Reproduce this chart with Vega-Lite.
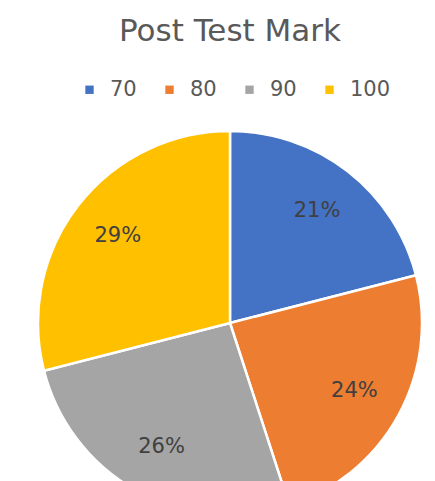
{
  "$schema": "https://vega.github.io/schema/vega-lite/v6.json",
  "width": 460,
  "height": 420,
  "padding": {"top": 16, "left": 0, "right": 0, "bottom": 0},
  "background": "white",
  "title": {
    "text": "Post Test Mark",
    "fontSize": 31,
    "font": "DejaVu Sans",
    "fontWeight": "normal",
    "color": "#595959",
    "anchor": "middle",
    "offset": 31
  },
  "data": {
    "values": [
      {"mark": 70, "share": 0.21},
      {"mark": 80, "share": 0.24},
      {"mark": 90, "share": 0.26},
      {"mark": 100, "share": 0.29}
    ]
  },
  "encoding": {
    "theta": {"field": "share", "type": "quantitative", "stack": true},
    "order": {"field": "mark", "type": "quantitative"},
    "color": {
      "field": "mark",
      "type": "ordinal",
      "scale": {
        "domain": [70, 80, 90, 100],
        "range": ["#4472C4", "#ED7D31", "#A5A5A5", "#FFC000"]
      },
      "legend": {
        "orient": "none",
        "legendX": 79,
        "legendY": -34,
        "direction": "horizontal",
        "title": null,
        "symbolType": "square",
        "symbolSize": 70,
        "symbolStrokeWidth": 0,
        "labelFont": "DejaVu Sans",
        "labelFontSize": 21,
        "labelColor": "#595959",
        "labelOffset": 10,
        "columnPadding": 22
      }
    }
  },
  "layer": [
    {
      "mark": {"type": "arc", "radius": 192, "stroke": "white", "strokeWidth": 2.5}
    },
    {
      "mark": {"type": "text", "radius": 142, "font": "DejaVu Sans", "fontSize": 21},
      "encoding": {
        "text": {"field": "share", "type": "quantitative", "format": ".0%"},
        "color": {"value": "#404040"}
      }
    }
  ],
  "config": {"view": {"stroke": null}}
}
